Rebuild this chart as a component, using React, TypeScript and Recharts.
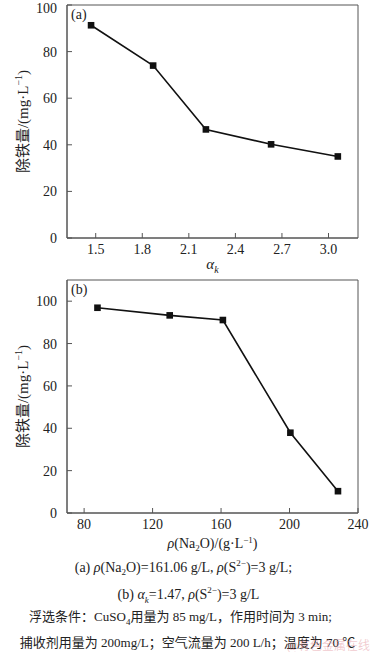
import {LineChart, Line, XAxis, YAxis, ReferenceArea} from 'recharts';

const alphaK = [1.47, 1.87, 2.21, 2.63, 3.06];
const removalA = [91.3, 74.0, 46.6, 40.2, 35.0];
const naConc = [87.8, 130, 161.06, 200.5, 228.3];
const removalB = [96.9, 93.3, 91.1, 37.9, 10.3];

const ticksA = [1.5, 1.8, 2.1, 2.4, 2.7, 3.0];
const ticksB = [80, 120, 160, 200, 240];
const yTicks = [0, 20, 40, 60, 80, 100];

const dataA = alphaK.map((x, i) => ({x, y: removalA[i]}));
const dataB = naConc.map((x, i) => ({x, y: removalB[i]}));

const SERIF = '"Liberation Serif", "Times New Roman", serif';
const CJK = '"Liberation Serif", "Noto Sans CJK SC", serif';
const AXIS = '#555';
const tickStyle = {fontFamily: SERIF, fontSize: 14, fill: '#222'};

const Square = (props: any) => {
  const {cx, cy, index} = props;
  return <rect key={index} x={cx - 3.3} y={cy - 3.3} width={6.6} height={6.6} fill="#111" />;
};

const YLabel = (props: any) => {
  const vb = props.viewBox || {};
  const cx = 23;
  const cy = vb.y + vb.height / 2;
  return (
    <text
      x={cx}
      y={cy}
      transform={`rotate(-90 ${cx} ${cy})`}
      textAnchor="middle"
      dominantBaseline="central"
      style={{fontFamily: CJK, fontSize: 15, fill: '#222'}}
    >
      除铁量/(mg·L
      <tspan fontSize={10} dy={-5}>−1</tspan>
      <tspan dy={5}>)</tspan>
    </text>
  );
};

const AlphaLabel = (props: any) => {
  const vb = props.viewBox || {};
  return (
    <text x={vb.x + vb.width / 2} y={vb.y + 31} textAnchor="middle" style={{fontFamily: SERIF, fontSize: 15, fill: '#222'}}>
      <tspan fontStyle="italic">α</tspan>
      <tspan fontSize={10} fontStyle="italic" dy={4}>k</tspan>
    </text>
  );
};

const NaLabel = (props: any) => {
  const vb = props.viewBox || {};
  return (
    <text x={vb.x + vb.width / 2} y={vb.y + 35} textAnchor="middle" style={{fontFamily: SERIF, fontSize: 14, fill: '#222'}}>
      <tspan fontStyle="italic">ρ</tspan>(Na
      <tspan fontSize={9} dy={3}>2</tspan>
      <tspan dy={-3}>O)/(g·L</tspan>
      <tspan fontSize={9} dy={-5}>−1</tspan>
      <tspan dy={5}>)</tspan>
    </text>
  );
};

function Panel({data, xDomain, xTicks, xFormat, yMax, xLabel, height, bottom}: any) {
  return (
    <LineChart width={381} height={height} data={data} margin={{top: 5, right: 23, left: 0, bottom: 0}}>
      <XAxis
        dataKey="x"
        type="number"
        domain={xDomain}
        ticks={xTicks}
        tickFormatter={xFormat}
        allowDataOverflow
        height={bottom}
        stroke={AXIS}
        tickSize={-5}
        tickMargin={11}
        tick={tickStyle}
        label={xLabel}
      />
      <YAxis
        type="number"
        domain={[0, yMax]}
        ticks={yTicks}
        allowDataOverflow
        width={67}
        stroke={AXIS}
        tickSize={-5}
        tickMargin={15}
        tick={tickStyle}
        label={<YLabel />}
      />
      <ReferenceArea x1={xDomain[0]} x2={xDomain[1]} y1={0} y2={yMax} fill="none" stroke={AXIS} strokeWidth={1} />
      <Line
        dataKey="y"
        type="linear"
        stroke="#111"
        strokeWidth={1.6}
        dot={<Square />}
        isAnimationActive={false}
      />
    </LineChart>
  );
}

const captionStyle: any = {
  position: 'absolute',
  left: 0,
  width: 381,
  textAlign: 'center',
  fontFamily: CJK,
  fontSize: 14,
  color: '#222',
  lineHeight: '16px',
  whiteSpace: 'nowrap',
};

export default function App() {
  return (
    <div style={{position: 'absolute', left: 0, top: 0, width: 381, height: 652, background: '#fff', overflow: 'hidden'}}>
      <div style={{position: 'absolute', left: 0, top: 0}}>
        <Panel
          data={dataA}
          xDomain={[1.315, 3.19]}
          xTicks={ticksA}
          xFormat={(v: number) => v.toFixed(1)}
          yMax={100}
          xLabel={<AlphaLabel />}
          height={275}
          bottom={37}
        />
      </div>
      <div style={{position: 'absolute', left: 0, top: 275}}>
        <Panel
          data={dataB}
          xDomain={[70, 240]}
          xTicks={ticksB}
          xFormat={(v: number) => String(v)}
          yMax={110}
          xLabel={<NaLabel />}
          height={280}
          bottom={42}
        />
      </div>
      <div style={{position: 'absolute', left: 71, top: 7, fontFamily: SERIF, fontSize: 14, color: '#222'}}>(a)</div>
      <div style={{position: 'absolute', left: 71, top: 282, fontFamily: SERIF, fontSize: 14, color: '#222'}}>(b)</div>
      <div style={{...captionStyle, top: 555, left: -7}}>
        (a) <i>ρ</i>(Na<sub style={{fontSize: 9}}>2</sub>O)=161.06 g/L, <i>ρ</i>(S<sup style={{fontSize: 9}}>2−</sup>)=3 g/L;
      </div>
      <div style={{...captionStyle, top: 582, left: -2}}>
        (b) <i>α<sub style={{fontSize: 9}}>k</sub></i>=1.47, <i>ρ</i>(S<sup style={{fontSize: 9}}>2−</sup>)=3 g/L
      </div>
      <div style={{...captionStyle, top: 609, fontSize: 13, left: -10}}>
        浮选条件：CuSO<sub style={{fontSize: 9}}>4</sub>用量为 85 mg/L，作用时间为 3 min;
      </div>
      <div style={{...captionStyle, top: 635, fontSize: 13, left: -3}}>
        捕收剂用量为 200mg/L；空气流量为 200 L/h；温度为 70 ℃
      </div>
      <div style={{position: 'absolute', left: 287, top: 636, fontFamily: CJK, fontSize: 12, color: 'rgba(225,140,150,0.45)'}}>
        @有色金属在线
      </div>
    </div>
  );
}
